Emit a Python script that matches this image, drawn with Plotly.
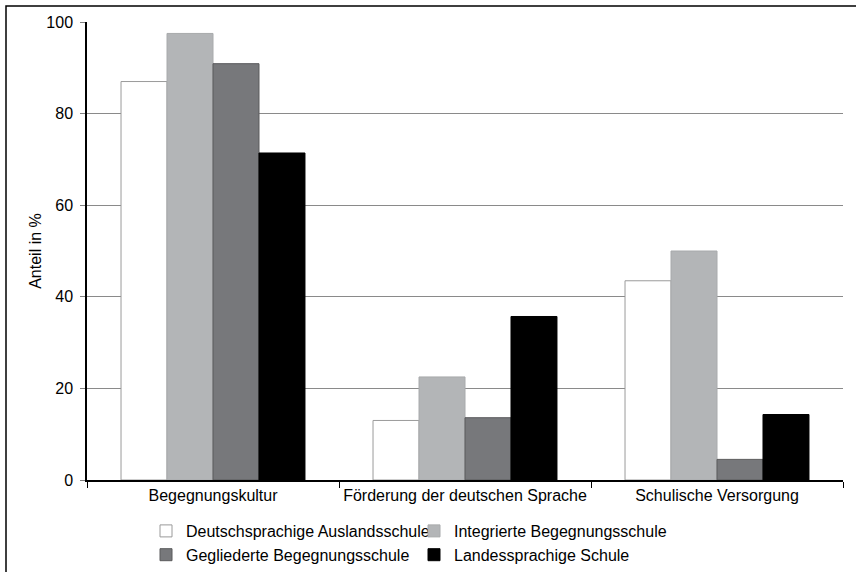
import plotly.graph_objects as go

categories = ["Begegnungskultur", "Förderung der deutschen Sprache", "Schulische Versorgung"]
series_names = [
    "Deutschsprachige Auslandsschule",
    "Integrierte Begegnungsschule",
    "Gegliederte Begegnungsschule",
    "Landessprachige Schule",
]
values_dtsch = [87.0, 13.0, 43.5]
values_integ = [97.5, 22.5, 50.0]
values_gegl = [90.9, 13.6, 4.5]
values_landes = [71.4, 35.7, 14.3]
y_ticks = [0, 20, 40, 60, 80, 100]

series_values = [values_dtsch, values_integ, values_gegl, values_landes]
fills = ["#ffffff", "#b3b5b7", "#77787b", "#000000"]
borders = ["#9a9a9a", "#a8aaac", "#5a5a5c", "#000000"]

W, H = 856, 572
L, R, T, B = 87, 13, 22, 92
PW, PH = W - L - R, H - T - B

fig = go.Figure()
for name, vals, fc, bc in zip(series_names, series_values, fills, borders):
    fig.add_trace(go.Bar(
        x=categories, y=vals, name=name,
        marker=dict(color=fc, line=dict(color=bc, width=1)),
    ))

font = dict(family="Liberation Sans, Arial, sans-serif", size=16, color="#000000")

fig.update_layout(
    width=W, height=H,
    margin=dict(l=L, r=R, t=T, b=B, pad=0, autoexpand=False),
    paper_bgcolor="#ffffff", plot_bgcolor="#ffffff",
    font=font,
    barmode="group", bargap=0.27, bargroupgap=0,
    showlegend=True,
    legend=dict(
        orientation="h", x=(146 - L) / PW, xanchor="left",
        y=-(514 - T - PH) / PH, yanchor="top",
        entrywidth=223, entrywidthmode="pixels",
        itemwidth=30, tracegroupgap=0,
        font=font, bgcolor="rgba(0,0,0,0)",
    ),
    xaxis=dict(
        showline=True, linecolor="#000000", linewidth=1.5,
        ticks="outside", tickson="boundaries", ticklen=6, tickcolor="#000000",
        tickfont=font, showgrid=False, tickangle=0, automargin=False,
    ),
    yaxis=dict(
        range=[0, 100], tickvals=y_ticks, showline=True, linecolor="#000000", linewidth=1.5,
        ticks="outside", ticklen=5, tickcolor="#808080", ticklabelstandoff=4,
        showgrid=True, gridcolor="#8a8a8a", gridwidth=1, zeroline=False,
        tickfont=font, automargin=False,
        title=dict(text="Anteil in %", font=font, standoff=1),
    ),
    shapes=[dict(
        type="rect", xref="paper", yref="paper",
        x0=(6 - L) / PW, x1=(W + 20 - L) / PW,
        y0=-1.0, y1=(H - 6 - B) / PH,
        line=dict(color="#000000", width=1.5), fillcolor="rgba(0,0,0,0)", layer="below",
    )],
)

fig.write_html("out.html", config={"displayModeBar": False},
               post_script="document.body.style.margin='0px';")
